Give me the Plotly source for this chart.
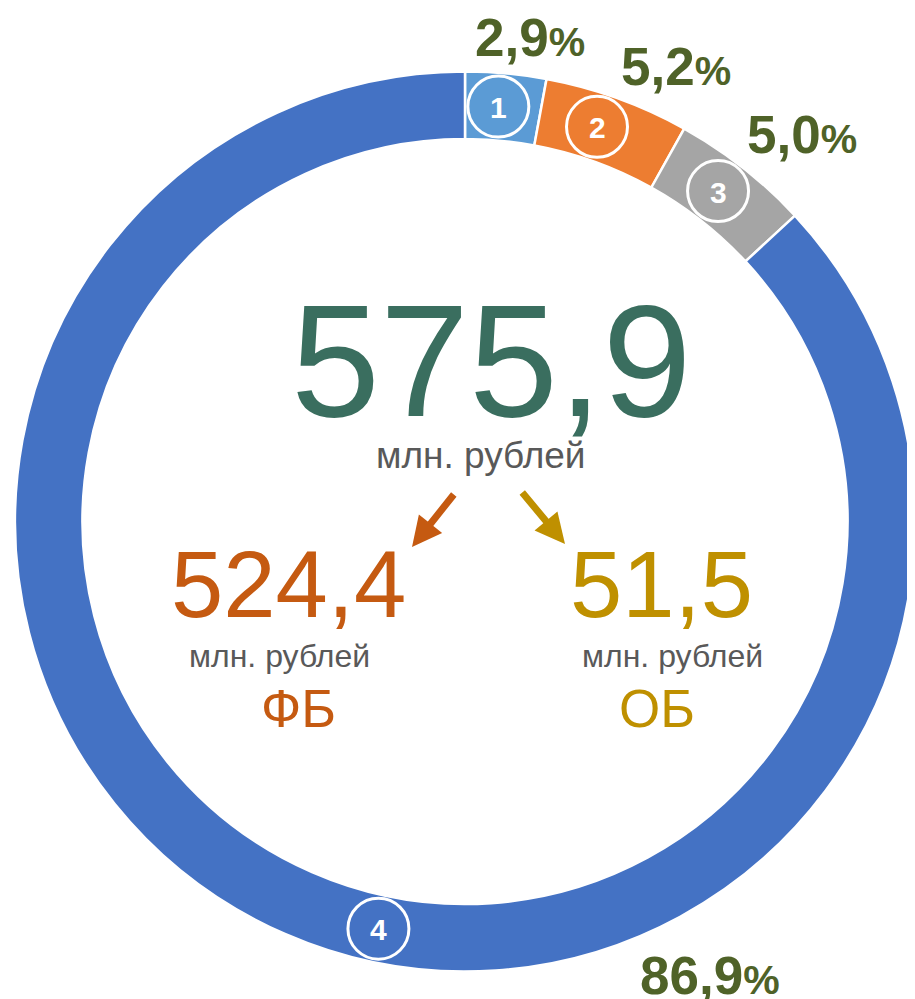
import numpy as np
import plotly.graph_objects as go

# ------------------------- Данные -------------------------
nomera = ['1', '2', '3', '4']
doli = [2.9, 5.2, 5.0, 86.9]            # % от общего объема
podpisi = ['2,9', '5,2', '5,0', '86,9']
cveta = ['#5B9BD5', '#ED7D31', '#A5A5A5', '#4472C4']

vsego = '575,9'
fb = '524,4'
ob = '51,5'
edinica = 'млн. рублей'

# ------------------------- Геометрия -------------------------
# страница html имеет отступ body 8px, поэтому фигура чуть меньше окна
OFF = 8
W, H = 907, 991
dom_x = [7 / W, 1.0]
dom_y = [0.0262, 0.9374]
hole = 0.85
FONT = 'Liberation Sans, Arial, sans-serif'

# координаты на экране (пиксели окна) -> доли фигуры
def px(x):
    return (x - OFF) / W

def py(y):
    return 1 - (y - OFF) / H

# центр и радиус кольца так же, как их считает plotly (в пикселях окна)
cx = OFF + W * (dom_x[0] + dom_x[1]) / 2
cy = OFF + H * (1 - (dom_y[0] + dom_y[1]) / 2)
r = min(W * (dom_x[1] - dom_x[0]), H * (dom_y[1] - dom_y[0])) / 2
rm = r * (1 + hole) / 2

fig = go.Figure(go.Pie(values=doli, labels=nomera, sort=False, direction='clockwise',
                       rotation=0, hole=hole, textinfo='none', hoverinfo='label+percent',
                       marker=dict(colors=cveta, line=dict(color='white', width=2.5)),
                       domain=dict(x=dom_x, y=dom_y), showlegend=False))

# кружки с номерами на кольце
pos = [0.44, 0.43, 0.46, 0.463]
start = np.cumsum([0] + doli[:-1])
ugol = (start + np.array(pos) * np.array(doli)) / 100 * 2 * np.pi
bx = cx + rm * np.sin(ugol)
by = cy - rm * np.cos(ugol)

shapes = []
ann = []
for i in range(len(nomera)):
    shapes.append(dict(type='circle', xref='paper', yref='paper', layer='above',
                       x0=px(bx[i] - 30.5), x1=px(bx[i] + 30.5),
                       y0=py(by[i] + 30.5), y1=py(by[i] - 30.5),
                       fillcolor=cveta[i], line=dict(color='white', width=3)))
    ann.append(dict(text='<b>' + nomera[i] + '</b>', x=px(bx[i]), y=py(by[i] + 1),
                    font=dict(family=FONT, size=30, color='white')))

# подписи долей
pct_xy = [(530, 37), (676, 67), (802, 134), (710, 975)]
for i, (x, y) in enumerate(pct_xy):
    ann.append(dict(text='<b>' + podpisi[i] + '<span style="font-size:41px">%</span></b>',
                    x=px(x), y=py(y), font=dict(family=FONT, size=53, color='#4F6228')))

# центр
teal, orange, gold, grey = '#3A6E5F', '#C55A11', '#BF9000', '#595959'
ann += [
    dict(text=vsego, x=px(491), y=py(361), font=dict(family=FONT, size=160, color=teal)),
    dict(text=edinica, x=px(480), y=py(455), font=dict(family=FONT, size=37, color=grey)),
    dict(text=fb, x=px(288), y=py(584), font=dict(family=FONT, size=94, color=orange)),
    dict(text=edinica, x=px(279), y=py(656), font=dict(family=FONT, size=32, color=grey)),
    dict(text='ФБ', x=px(298), y=py(708), font=dict(family=FONT, size=53, color=orange)),
    dict(text=ob, x=px(661), y=py(584), font=dict(family=FONT, size=94, color=gold)),
    dict(text=edinica, x=px(672), y=py(656), font=dict(family=FONT, size=32, color=grey)),
    dict(text='ОБ', x=px(657), y=py(708), font=dict(family=FONT, size=53, color=gold)),
]
for a in ann:
    a.update(xref='paper', yref='paper', showarrow=False, xanchor='center', yanchor='middle')

# стрелки
ann += [
    dict(x=px(412), y=py(547), ax=43, ay=-54, xref='paper', yref='paper', text='',
         showarrow=True, arrowhead=2, arrowsize=0.85, arrowwidth=7, arrowcolor=orange),
    dict(x=px(565), y=py(544), ax=-44, ay=-53, xref='paper', yref='paper', text='',
         showarrow=True, arrowhead=2, arrowsize=0.85, arrowwidth=7, arrowcolor=gold),
]

fig.update_layout(width=W, height=H, margin=dict(l=0, r=0, t=0, b=0),
                  paper_bgcolor='white', plot_bgcolor='white',
                  shapes=shapes, annotations=ann)
fig.write_html("out.html")
